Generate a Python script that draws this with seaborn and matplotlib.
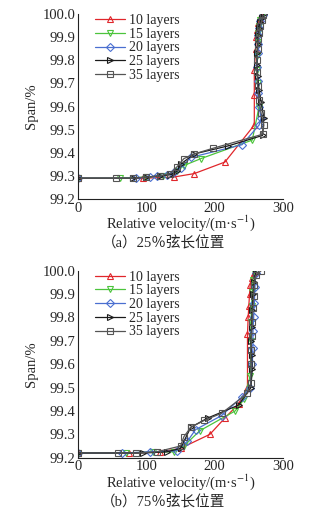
import numpy as np
import pandas as pd
import matplotlib
matplotlib.use('Agg')
import matplotlib.pyplot as plt
import seaborn as sns
from matplotlib.ticker import MultipleLocator

# --- data: (a) 25% chord ---
a_v10 = [0, 95, 140, 170, 215, 258, 258, 258, 260, 261, 262, 264, 266, 268]
a_s10 = [99.29, 99.29, 99.295, 99.31, 99.36, 99.52, 99.65, 99.76, 99.85, 99.90, 99.93, 99.96, 99.98, 99.995]
a_v15 = [0, 62, 100, 125, 145, 155, 180, 255, 265, 263, 262, 262, 263, 264, 265, 267, 269]
a_s15 = [99.29, 99.29, 99.295, 99.30, 99.32, 99.345, 99.375, 99.455, 99.60, 99.70, 99.76, 99.82, 99.88, 99.92, 99.95, 99.975, 99.995]
a_v20 = [0, 85, 105, 115, 130, 140, 150, 165, 240, 265, 268, 265, 263, 263, 262, 263, 263, 264, 265, 267, 270]
a_s20 = [99.29, 99.29, 99.295, 99.30, 99.305, 99.315, 99.335, 99.38, 99.435, 99.52, 99.55, 99.60, 99.66, 99.71, 99.77, 99.83, 99.87, 99.91, 99.94, 99.97, 99.995]
a_v25 = [0, 80, 100, 120, 135, 145, 150, 170, 220, 270, 272, 268, 265, 263, 262, 262, 263, 264, 265, 267, 269, 272]
a_s25 = [99.29, 99.29, 99.295, 99.30, 99.305, 99.32, 99.35, 99.395, 99.43, 99.475, 99.55, 99.62, 99.67, 99.73, 99.78, 99.83, 99.87, 99.91, 99.94, 99.965, 99.985, 100.0]
a_v35 = [0, 55, 80, 100, 120, 135, 145, 155, 170, 198, 270, 272, 268, 265, 263, 262, 262, 263, 264, 265, 267, 269, 271]
a_s35 = [99.29, 99.29, 99.29, 99.295, 99.30, 99.31, 99.34, 99.375, 99.395, 99.42, 99.48, 99.52, 99.57, 99.63, 99.69, 99.75, 99.80, 99.85, 99.89, 99.92, 99.95, 99.975, 99.995]

# --- data: (b) 75% chord ---
b_v10 = [0, 75, 120, 150, 193, 215, 235, 248, 248, 249, 250, 251, 252, 255, 258]
b_s10 = [99.22, 99.22, 99.225, 99.24, 99.30, 99.37, 99.43, 99.50, 99.73, 99.80, 99.85, 99.90, 99.94, 99.97, 99.99]
b_v15 = [0, 70, 110, 140, 155, 178, 230, 243, 252, 253, 253, 254, 255, 256, 258]
b_s15 = [99.22, 99.22, 99.225, 99.225, 99.25, 99.315, 99.40, 99.45, 99.55, 99.70, 99.78, 99.85, 99.91, 99.96, 100.0]
b_v20 = [0, 65, 105, 145, 160, 172, 210, 240, 252, 255, 256, 256, 257, 258, 259, 260]
b_s20 = [99.22, 99.22, 99.225, 99.23, 99.27, 99.32, 99.38, 99.46, 99.50, 99.60, 99.67, 99.74, 99.80, 99.86, 99.93, 99.99]
b_v25 = [0, 95, 130, 150, 165, 190, 235, 253, 255, 254, 253, 254, 255, 256, 258, 260]
b_s25 = [99.22, 99.22, 99.225, 99.24, 99.33, 99.37, 99.425, 99.50, 99.58, 99.64, 99.70, 99.76, 99.83, 99.90, 99.95, 99.99]
b_v35 = [0, 58, 85, 115, 150, 155, 165, 185, 210, 248, 253, 253, 253, 254, 255, 256, 257, 258, 260, 268]
b_s35 = [99.22, 99.22, 99.22, 99.225, 99.25, 99.29, 99.33, 99.36, 99.39, 99.475, 99.52, 99.60, 99.66, 99.72, 99.78, 99.84, 99.89, 99.94, 99.98, 100.0]

labels = ['10 layers', '15 layers', '20 layers', '25 layers', '35 layers']
colors = ['#e0262b', '#4cc43c', '#4a6fd0', '#1a1a1a', '#555555']
markers = ['^', 'v', 'D', '>', 's']
msizes = [4.5, 5, 4, 4.5, 4.5]

panels = [
    ([a_v10, a_v15, a_v20, a_v25, a_v35], [a_s10, a_s15, a_s20, a_s25, a_s35],
     '（a）25％弦长位置'),
    ([b_v10, b_v15, b_v20, b_v25, b_v35], [b_s10, b_s15, b_s20, b_s25, b_s35],
     '（b）75％弦长位置'),
]

sns.set_style('white')
plt.rcParams['font.family'] = ['Liberation Serif', 'Noto Sans CJK SC']
plt.rcParams['mathtext.fontset'] = 'stix'
plt.rcParams['font.size'] = 10

fig = plt.figure(figsize=(3.27, 5.13), dpi=100)
rects = [[0.2385, 0.612, 0.627, 0.3606], [0.2385, 0.1078, 0.627, 0.3645]]
cap_y = [0.526, 0.0214]

for (vs, ss, cap), r, cy in zip(panels, rects, cap_y):
    ax = fig.add_axes(r)
    for v, s, lab, c, m, ms in zip(vs, ss, labels, colors, markers, msizes):
        df = pd.DataFrame({'v': v, 's': s})
        sns.lineplot(data=df, x='v', y='s', sort=False, estimator=None, ax=ax,
                     color=c, marker=m, markersize=ms, mfc='none', mec=c,
                     mew=0.8, lw=0.9, label=lab)
    ax.set_xlim(0, 300)
    ax.set_ylim(99.2, 100.0)
    ax.xaxis.set_major_locator(MultipleLocator(100))
    ax.xaxis.set_minor_locator(MultipleLocator(20))
    ax.yaxis.set_major_locator(MultipleLocator(0.1))
    ax.yaxis.set_minor_locator(MultipleLocator(0.02))
    ax.yaxis.set_major_formatter(matplotlib.ticker.FormatStrFormatter('%.1f'))
    ax.tick_params(which='both', direction='in', top=False, right=False,
                   labelsize=10.5, pad=2)
    ax.tick_params(which='major', length=4, width=0.8)
    ax.tick_params(which='minor', length=2, width=0.6)
    for side in ['top', 'right']:
        ax.spines[side].set_visible(False)
    for side in ['left', 'bottom']:
        ax.spines[side].set_linewidth(0.8)
        ax.spines[side].set_color('#222222')
    ax.set_xlabel('Relative velocity/(m·s$^{-1}$)', fontsize=10.5, labelpad=-1)
    ax.set_ylabel('Span/%', fontsize=10.5, labelpad=3)
    ax.legend(loc='upper left', bbox_to_anchor=(0.04, 1.045), frameon=False,
              fontsize=10, handlelength=2.2, handletextpad=0.3,
              labelspacing=0.05, borderaxespad=0.2)
    fig.text(0.5, cy, cap, ha='center', va='center', fontsize=10.5)

fig.savefig('out.png', dpi=100, facecolor='white')
